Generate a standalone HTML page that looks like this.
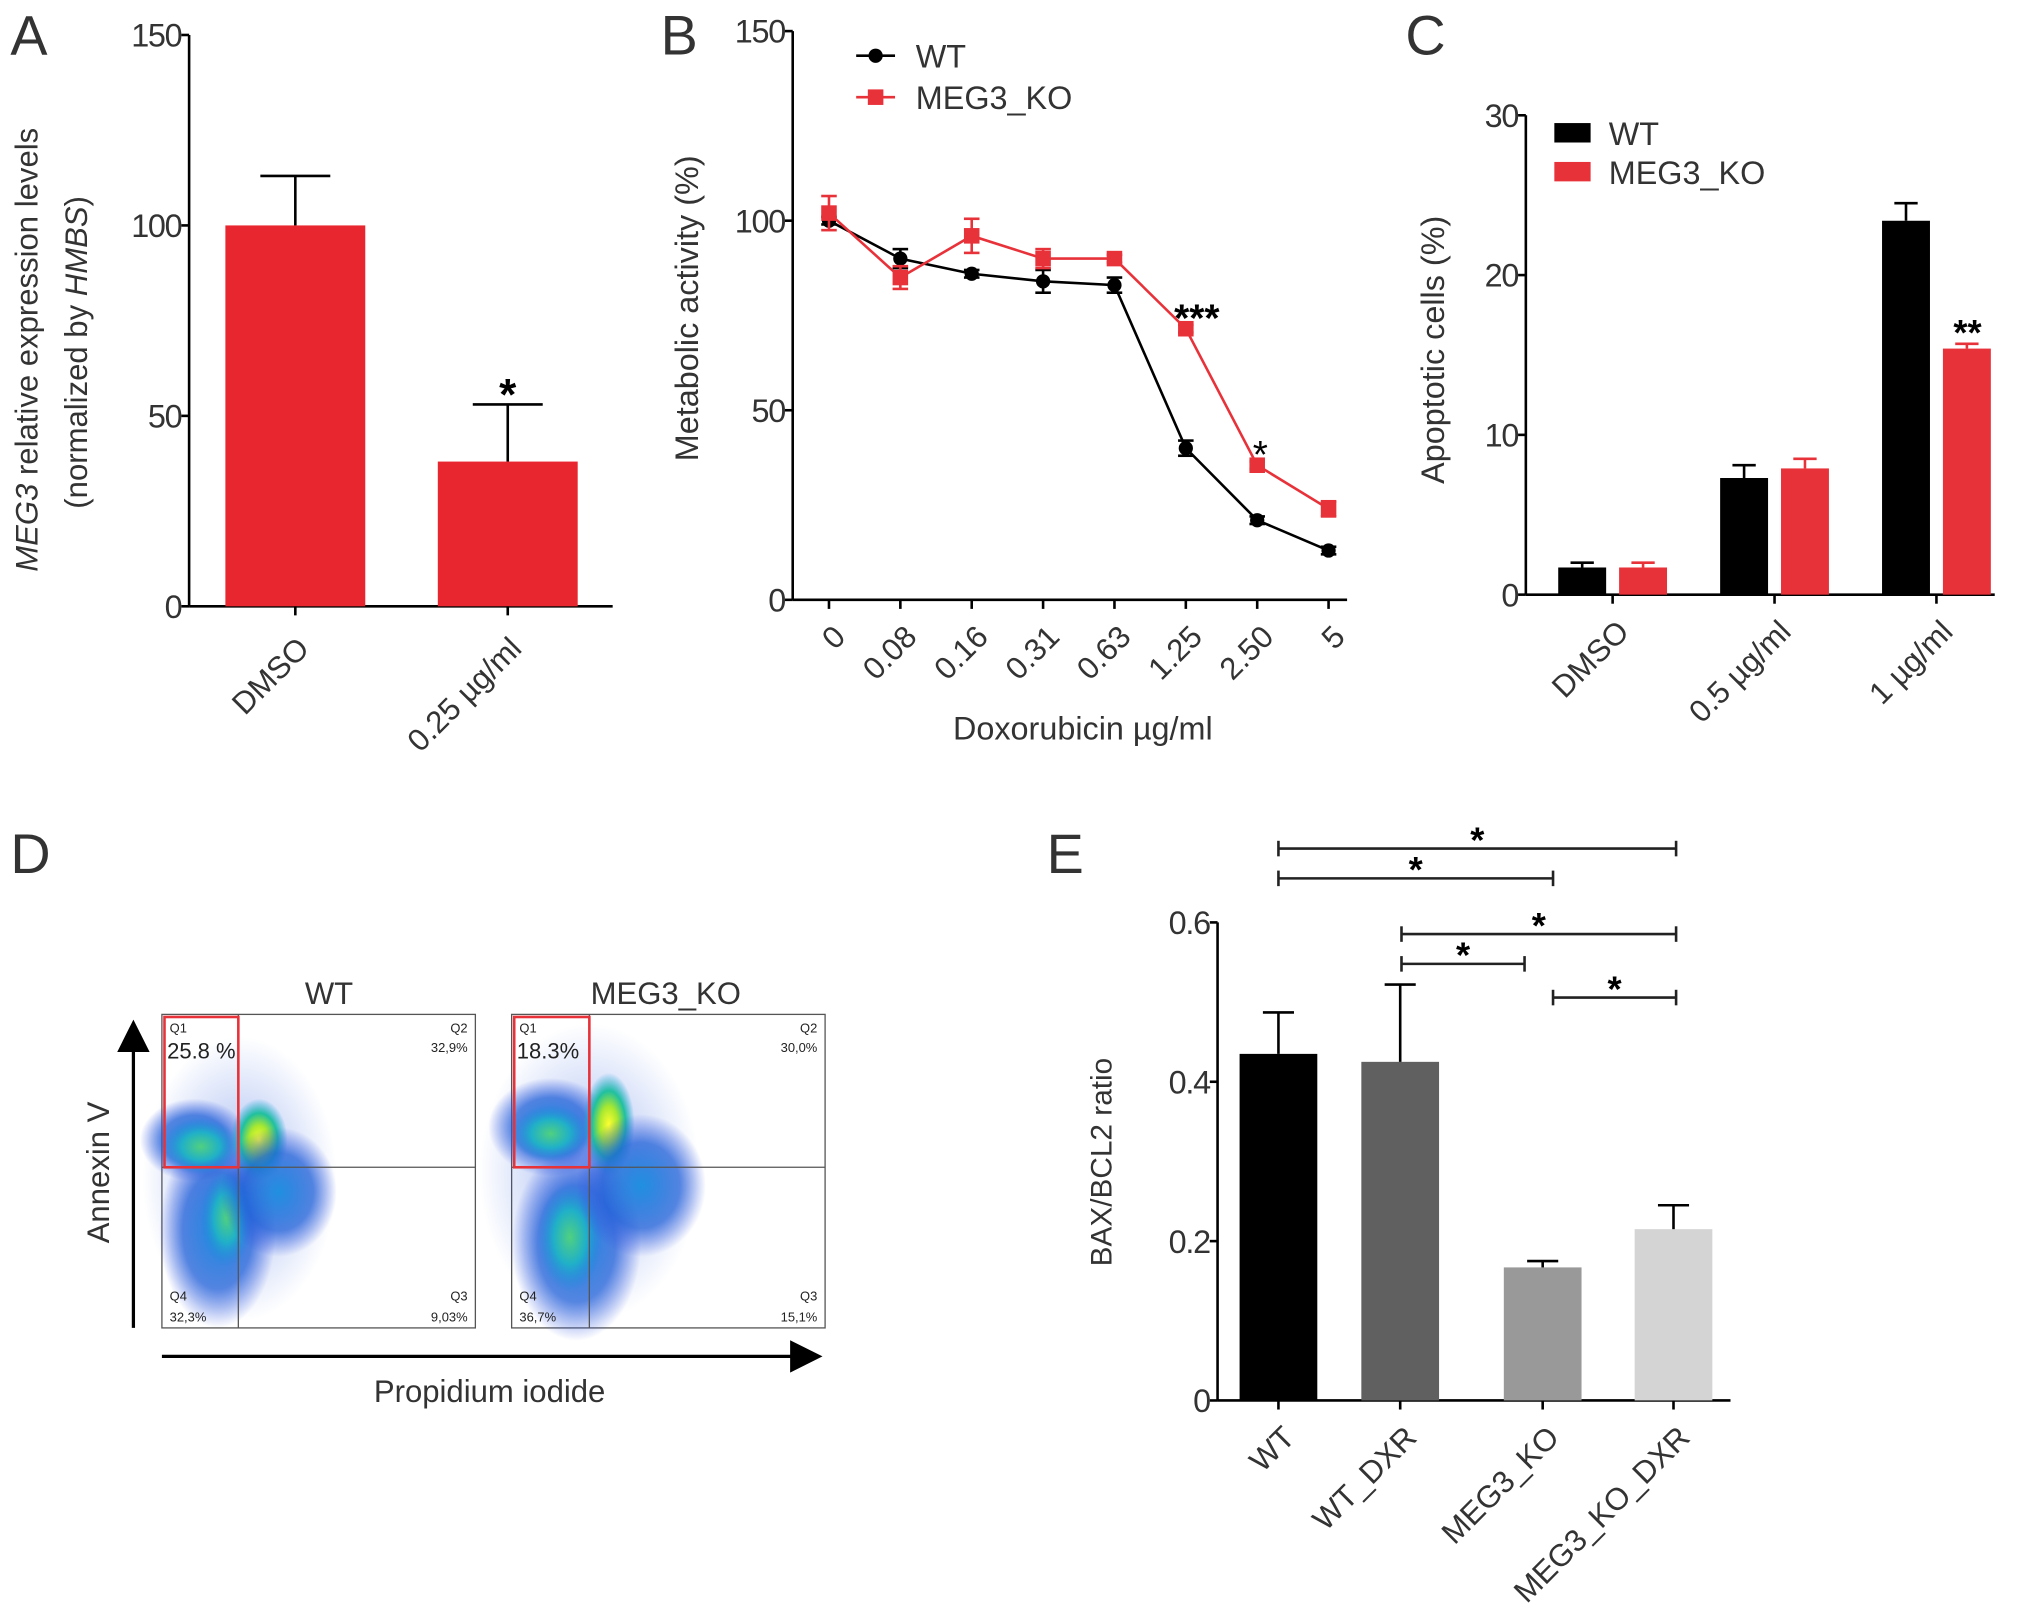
<!DOCTYPE html>
<html><head><meta charset="utf-8">
<style>
html,body{margin:0;padding:0;background:#fff;}
svg{display:block;font-family:"Liberation Sans",Arial,sans-serif;}
</style></head>
<body>
<svg id="fig" width="2031" height="1622" viewBox="0 0 1568 1252" preserveAspectRatio="none">
<defs>
<radialGradient id="gY" cx="50%" cy="50%" r="50%">
<stop offset="0" stop-color="#ffff30"/><stop offset="0.35" stop-color="#a8e830"/><stop offset="0.65" stop-color="#20c0a0"/><stop offset="1" stop-color="#20a0e0" stop-opacity="0"/></radialGradient>
<radialGradient id="gB" cx="50%" cy="50%" r="50%">
<stop offset="0" stop-color="#2090e0"/><stop offset="0.6" stop-color="#2060d8" stop-opacity="0.75"/><stop offset="1" stop-color="#3050e0" stop-opacity="0"/></radialGradient>
<radialGradient id="gH" cx="50%" cy="50%" r="50%">
<stop offset="0" stop-color="#3060e0" stop-opacity="0.45"/><stop offset="1" stop-color="#3060e0" stop-opacity="0"/></radialGradient>
<radialGradient id="gC" cx="50%" cy="50%" r="50%">
<stop offset="0" stop-color="#50d080"/><stop offset="0.5" stop-color="#20b0c8"/><stop offset="1" stop-color="#2080e0" stop-opacity="0"/></radialGradient>
<marker id="arr" markerWidth="10" markerHeight="10" refX="8" refY="5" orient="auto"><path d="M0,0 L10,5 L0,10 z" fill="#000"/></marker>
</defs>
<g id="A"></g>
<g id="B"></g>
<g id="C"></g>
<g id="D"></g>
<g id="E"></g>
</svg>
<script>
// Panel A data
const aCats = ["DMSO", "0.25 µg/ml"];
const aVals = [100, 38];
const aErr = [113, 53];
const aTicks = [0, 50, 100, 150];
// Panel B data
const bCats = ["0", "0.08", "0.16", "0.31", "0.63", "1.25", "2.50", "5"];
const bWT = [100, 90, 86, 84, 83, 40, 21, 13];
const bWTErr = [1, 2.5, 1, 3, 2, 2, 1, 1];
const bKO = [102, 85, 96, 90, 90, 71.5, 35.5, 24];
const bKOErr = [4.5, 3, 4.5, 2.5, 1, 1, 1, 2];
const bTicks = [0, 50, 100, 150];
// Panel C data
const cCats = ["DMSO", "0.5 µg/ml", "1 µg/ml"];
const cWT = [1.7, 7.3, 23.4];
const cWTErr = [2.0, 8.1, 24.5];
const cKO = [1.7, 7.9, 15.4];
const cKOErr = [2.0, 8.5, 15.7];
const cTicks = [0, 10, 20, 30];
// Panel E data
const eCats = ["WT", "WT_DXR", "MEG3_KO", "MEG3_KO_DXR"];
const eVals = [0.435, 0.425, 0.167, 0.215];
const eErr = [0.487, 0.522, 0.175, 0.245];
const eTicks = [0, 0.2, 0.4, 0.6];
const eColors = ["#000000", "#606060", "#999999", "#d4d4d4"];
const eBrackets = [[0,3],[0,2],[1,3],[1,2],[2,3]];

const NS = "http://www.w3.org/2000/svg";
function mk(parent, tag, attrs, text){
  const e = document.createElementNS(NS, tag);
  for (const k in attrs) e.setAttribute(k, attrs[k]);
  if (text !== undefined) e.textContent = text;
  parent.appendChild(e);
  return e;
}
function line(p,x1,y1,x2,y2,c,w){return mk(p,"line",{x1:x1,y1:y1,x2:x2,y2:y2,stroke:c||"#000","stroke-width":w||2});}
const TXT = "#333";

function yAxis(p, x, y0, y1, ticks, max, fmt){
  const ax = line(p, x, y0, x, y1);
  
  
  ticks.forEach(t=>{
    const y = y0 - (t/max)*(y0-y1);
    line(p, x-6, y, x, y);
    const tl = mk(p,"text",{x:x-6,y:y+9,"text-anchor":"end","font-size":25,"letter-spacing":"-1",fill:TXT},fmt?fmt(t):String(t));
    
    
  });
}
function rotLabel(p, x, y, s, name){
  const t = mk(p,"text",{x:x,y:y,"text-anchor":"end","font-size":24,fill:TXT,transform:`rotate(-45 ${x} ${y})`},s);
  
  
}
function letter(p,x,y,s){
  const t = mk(p,"text",{x:x,y:y,"font-size":43,fill:"#333"},s);
  
  
}

// ---------- Panel A ----------
(function(){
  const g = document.getElementById("A");
  letter(g, 8, 42, "A");
  const X0=146, Y0=468, Y1=27, MAX=150;
  const ys = v => Y0 - v/MAX*(Y0-Y1);
  const centers = [228, 392], bw = 108;
  line(g, X0, Y0, 473, Y0);
  yAxis(g, X0, Y0, Y1, aTicks, MAX);
  aCats.forEach((c,i)=>{
    const cx = centers[i];
    const r = mk(g,"rect",{x:cx-bw/2,y:ys(aVals[i]),width:bw,height:Y0-ys(aVals[i]),fill:"#e8262f"});
    
    
    line(g, cx, ys(aVals[i]), cx, ys(aErr[i]));
    line(g, cx-27, ys(aErr[i]), cx+27, ys(aErr[i]));
    line(g, cx, Y0, cx, Y0+7);
    rotLabel(g, cx+12, Y0+34, c, 'x-tick-label');
  });
  const s = mk(g,"text",{x:392,y:ys(aErr[1])+4,"text-anchor":"middle","font-size":34,"font-weight":"bold",fill:"#000"},"*");
  
  
  const t = mk(g,"text",{transform:"translate(29 270) rotate(-90)","text-anchor":"middle","font-size":24,fill:TXT});
  
  
  mk(t,"tspan",{"font-style":"italic"},"MEG3");
  mk(t,"tspan",{}," relative expression levels");
  const t2 = mk(g,"text",{transform:"translate(67 272) rotate(-90)","text-anchor":"middle","font-size":24,fill:TXT});
  
  
  mk(t2,"tspan",{},"(normalized by ");
  mk(t2,"tspan",{"font-style":"italic"},"HMBS");
  mk(t2,"tspan",{},")");
})();

// ---------- Panel B ----------
(function(){
  const g = document.getElementById("B");
  letter(g, 510, 42, "B");
  const X0=612, Y0=463, Y1=24, MAX=150;
  const ys = v => Y0 - v/MAX*(Y0-Y1);
  const xs = i => 640 + i*55.1;
  line(g, X0, Y0, 1040, Y0);
  yAxis(g, X0, Y0, Y1, bTicks, MAX);
  bCats.forEach((c,i)=>{
    line(g, xs(i), Y0, xs(i), Y0+7);
    rotLabel(g, xs(i)+14, Y0+30, c, 'x-tick-label');
  });
  function series(vals, errs, col, sq, name){
    const pts = vals.map((v,i)=>xs(i)+","+ys(v)).join(" ");
    const pl = mk(g,"polyline",{points:pts,fill:"none",stroke:col,"stroke-width":2});
    
    
    vals.forEach((v,i)=>{
      const x=xs(i);
      line(g,x,ys(v-errs[i]),x,ys(v+errs[i]),col,2);
      line(g,x-6,ys(v-errs[i]),x+6,ys(v-errs[i]),col,2);
      line(g,x-6,ys(v+errs[i]),x+6,ys(v+errs[i]),col,2);
      let m;
      if (sq) m = mk(g,"rect",{x:x-6,y:ys(v)-6,width:12,height:12,fill:col});
      else m = mk(g,"circle",{cx:x,cy:ys(v),r:5.5,fill:col});
      
      
    });
  }
  series(bWT, bWTErr, "#000", false, "wt");
  series(bKO, bKOErr, "#e8323a", true, "meg3-ko");
  const s1 = mk(g,"text",{x:924,y:ys(bKO[5])+2,"text-anchor":"middle","font-size":30,"font-weight":"bold",fill:"#000"},"***");
  
  
  const s2 = mk(g,"text",{x:973,y:ys(bKO[6])+2,"text-anchor":"middle","font-size":30,fill:"#000"},"*");
  
  
  const lg = mk(g,"g",{});
  
  
  line(lg,661,43,691,43,"#000",2); mk(lg,"circle",{cx:676,cy:43,r:5.5,fill:"#000"});
  mk(lg,"text",{x:707,y:52,"font-size":25,fill:TXT},"WT");
  line(lg,661,75,691,75,"#e8323a",2); mk(lg,"rect",{x:670,y:69,width:12,height:12,fill:"#e8323a"});
  mk(lg,"text",{x:707,y:84,"font-size":25,fill:TXT},"MEG3_KO");
  const xt = mk(g,"text",{x:836,y:571,"text-anchor":"middle","font-size":25,fill:TXT},"Doxorubicin µg/ml");
  
  
  const yt = mk(g,"text",{transform:"translate(539 238) rotate(-90)","text-anchor":"middle","font-size":25,fill:TXT},"Metabolic activity (%)");
  
  
})();

// ---------- Panel C ----------
(function(){
  const g = document.getElementById("C");
  letter(g, 1085, 42, "C");
  const X0=1178, Y0=459, Y1=89, MAX=30;
  const ys = v => Y0 - v/MAX*(Y0-Y1);
  const gc = [1245, 1370, 1495], bw = 37;
  line(g, X0, Y0, 1540, Y0);
  yAxis(g, X0, Y0, Y1, cTicks, MAX);
  cCats.forEach((c,i)=>{
    [[cWT,cWTErr,"#000",-23.5],[cKO,cKOErr,"#e8323a",23.5]].forEach(([v,e,col,off],k)=>{
      const cx = gc[i]+off;
      const r = mk(g,"rect",{x:cx-bw/2,y:ys(v[i]),width:bw,height:Y0-ys(v[i]),fill:col});
      
      
      line(g,cx,ys(v[i]),cx,ys(e[i]),col,2);
      line(g,cx-9,ys(e[i]),cx+9,ys(e[i]),col,2);
    });
    line(g, gc[i], Y0, gc[i], Y0+7);
    rotLabel(g, gc[i]+14, Y0+30, c, 'x-tick-label');
  });
  const s = mk(g,"text",{x:1519,y:ys(cKOErr[2])+1,"text-anchor":"middle","font-size":28,"font-weight":"bold",fill:"#000"},"**");
  
  
  const lg = mk(g,"g",{});
  
  
  mk(lg,"rect",{x:1200,y:95,width:28,height:15,fill:"#000"});
  mk(lg,"text",{x:1242,y:112,"font-size":25,fill:TXT},"WT");
  mk(lg,"rect",{x:1200,y:125,width:28,height:15,fill:"#e8323a"});
  mk(lg,"text",{x:1242,y:142,"font-size":25,fill:TXT},"MEG3_KO");
  const yt = mk(g,"text",{transform:"translate(1115 270) rotate(-90)","text-anchor":"middle","font-size":25,fill:TXT},"Apoptotic cells (%)");
  
  
})();

// ---------- Panel D ----------
(function(){
  const g = document.getElementById("D");
  letter(g, 8, 674, "D");
  const plots = [
    {x:125, qx:184, title:"WT", tx:254, q1:"25.8 %", q2:"32,9%", q3:"9,03%", q4:"32,3%",
     haze:[[185,910,75,110]],
     blobs:[[150,880,42,32,"gB"],[168,950,45,75,"gB"],[155,885,30,22,"gC"],[200,880,22,32,"gY"],[175,940,20,38,"gC"],[215,920,45,50,"gB"]]},
    {x:395, qx:455, title:"MEG3_KO", tx:514, q1:"18.3%", q2:"30,0%", q3:"15,1%", q4:"36,7%",
     haze:[[455,905,85,115]],
     blobs:[[425,870,48,38,"gB"],[445,960,50,75,"gB"],[425,875,30,22,"gC"],[470,868,20,40,"gY"],[440,955,25,42,"gC"],[495,915,50,55,"gB"]]}
  ];
  plots.forEach((p,i)=>{
    const pg = mk(g,"g",{});
    
    
    mk(pg,"rect",{x:p.x,y:783,width:242,height:242,fill:"#fff",stroke:"#555","stroke-width":1});
    p.haze.forEach(b=>mk(pg,"ellipse",{cx:b[0],cy:b[1],rx:b[2],ry:b[3],fill:"url(#gH)"}));
    p.blobs.forEach(b=>mk(pg,"ellipse",{cx:b[0],cy:b[1],rx:b[2],ry:b[3],fill:`url(#${b[4]})`}));
    line(pg,p.qx,783,p.qx,1025,"#555",1);
    line(pg,p.x,901,p.x+242,901,"#555",1);
    mk(pg,"rect",{x:p.x+2,y:785,width:p.qx-p.x-2,height:116,fill:"none",stroke:"#e8323a","stroke-width":2});
    mk(pg,"text",{x:p.x+6,y:797,"font-size":10,fill:"#222"},"Q1");
    mk(pg,"text",{x:p.x+4,y:817,"font-size":17,fill:"#222"},p.q1);
    mk(pg,"text",{x:p.x+236,y:797,"text-anchor":"end","font-size":10,fill:"#222"},"Q2");
    mk(pg,"text",{x:p.x+236,y:812,"text-anchor":"end","font-size":10,fill:"#222"},p.q2);
    mk(pg,"text",{x:p.x+6,y:1004,"font-size":10,fill:"#222"},"Q4");
    mk(pg,"text",{x:p.x+6,y:1020,"font-size":10,fill:"#222"},p.q4);
    mk(pg,"text",{x:p.x+236,y:1004,"text-anchor":"end","font-size":10,fill:"#222"},"Q3");
    mk(pg,"text",{x:p.x+236,y:1020,"text-anchor":"end","font-size":10,fill:"#222"},p.q3);
    const tt = mk(g,"text",{x:p.tx,y:775,"text-anchor":"middle","font-size":24,fill:TXT},p.title);
    
    
  });
  line(g,103,1025,103,792,"#000",2.5).setAttribute('marker-end','url(#arr)');
  line(g,125,1047,630,1047,"#000",2.5).setAttribute('marker-end','url(#arr)');
  const yt = mk(g,"text",{transform:"translate(84 905) rotate(-90)","text-anchor":"middle","font-size":24,fill:TXT},"Annexin V");
  
  
  const xt = mk(g,"text",{x:378,y:1082,"text-anchor":"middle","font-size":24,fill:TXT},"Propidium iodide");
  
  
})();

// ---------- Panel E ----------
(function(){
  const g = document.getElementById("E");
  letter(g, 808, 674, "E");
  const X0=940, Y0=1081, Y1=712, MAX=0.6;
  const ys = v => Y0 - v/MAX*(Y0-Y1);
  const centers = [987, 1081, 1191, 1292], bw = 60;
  line(g, X0, Y0, 1336, Y0);
  yAxis(g, X0, Y0, Y1, eTicks, MAX, t=>t===0?"0":t.toFixed(1));
  eCats.forEach((c,i)=>{
    const cx = centers[i];
    const r = mk(g,"rect",{x:cx-bw/2,y:ys(eVals[i]),width:bw,height:Y0-ys(eVals[i]),fill:eColors[i]});
    
    
    line(g,cx,ys(eVals[i]),cx,ys(eErr[i]));
    line(g,cx-12,ys(eErr[i]),cx+12,ys(eErr[i]));
    line(g,cx,Y0,cx,Y0+7);
    rotLabel(g, cx+14, Y0+30, c, 'x-tick-label');
  });
  const by = [655, 678, 721, 744, 770];
  const bEnds = [[987,1294],[987,1199],[1082,1294],[1082,1177],[1199,1294]];
  eBrackets.forEach((b,k)=>{
    const [x1,x2] = bEnds[k], y = by[k];
    const bg = mk(g,"g",{});
    
    
    line(bg,x1,y,x2,y,"#222",2);
    line(bg,x1,y-6,x1,y+6,"#222",2);
    line(bg,x2,y-6,x2,y+6,"#222",2);
    mk(bg,"text",{x:(x1+x2)/2,y:y+3,"text-anchor":"middle","font-size":28,"font-weight":"bold",fill:"#000"},"*");
  });
  const yt = mk(g,"text",{transform:"translate(858 897) rotate(-90)","text-anchor":"middle","font-size":23,fill:TXT},"BAX/BCL2 ratio");
  
  
})();
</script>
</body></html>
